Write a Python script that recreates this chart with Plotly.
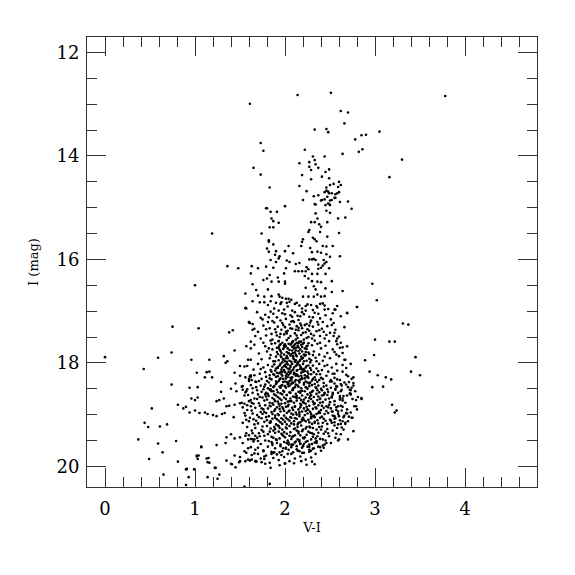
import plotly.graph_objects as go

# ---- data: (V-I, I) pairs, grouped by region ----
bright_sparse = [
    (2.14,12.82),(2.51,12.78),(1.61,12.99),(3.78,12.84),(2.62,13.13),(2.70,13.16),(2.66,13.37),
    (2.33,13.49),(2.46,13.48),(2.48,13.54),(3.05,13.53),(2.85,13.60),(2.90,13.59),(2.78,13.68),
    (1.73,13.75),(1.76,13.90),(2.22,13.88),(2.86,13.87),(2.82,13.92),(2.64,13.96),(3.30,14.07),
    (1.65,14.23),(1.73,14.36),(3.16,14.41),(1.83,14.61),(1.79,15.01),(2.00,14.97),
]
upper_rgb = [
    (2.31,14.01),(2.44,14.01),(2.16,14.14),(2.27,14.12),(2.33,14.08),(2.34,14.16),(2.27,14.21),
    (2.37,14.23),(2.29,14.27),(2.49,14.26),(2.45,14.31),(2.19,14.37),(2.41,14.40),(2.49,14.43),
    (2.29,14.45),(2.60,14.50),(2.54,14.54),(2.50,14.56),(2.62,14.56),(2.16,14.58),(2.46,14.61),
    (2.59,14.60),(2.24,14.68),(2.44,14.70),(2.48,14.69),(2.52,14.72),(2.56,14.74),(2.58,14.72),
    (2.60,14.70),(2.32,14.78),(2.37,14.76),(2.47,14.79),(2.55,14.81),(2.41,14.85),(2.44,14.84),
    (2.52,14.85),(2.61,14.89),(2.70,14.88),(2.20,14.85),(2.34,14.94),(2.45,14.95),(2.48,14.92),
    (2.50,14.95),(2.74,15.02),(2.46,14.67),(2.49,14.72),(2.40,14.86),(2.49,14.93),(2.33,14.93),
    (2.50,14.86),(2.56,14.81),
]
mid_branches = [
    (1.80,15.01),(1.84,15.08),(1.91,15.08),(2.46,15.06),(2.50,15.10),(2.34,15.11),(1.85,15.21),
    (1.87,15.26),(1.93,15.29),(2.67,15.19),(2.59,15.21),(2.36,15.21),(2.29,15.28),(2.33,15.28),
    (2.38,15.32),(2.47,15.28),(2.40,15.37),(1.83,15.38),(1.87,15.38),(2.27,15.43),(2.26,15.47),
    (2.39,15.47),(2.60,15.49),(1.19,15.50),(1.74,15.50),(2.47,15.56),(2.31,15.58),(2.33,15.61),
    (2.35,15.65),(2.20,15.61),(2.19,15.66),(1.82,15.63),(1.82,15.66),(1.87,15.71),(2.42,15.74),
    (2.46,15.75),(2.53,15.74),(2.04,15.74),(2.18,15.74),(2.28,15.78),(1.80,15.79),(1.90,15.84),
    (1.82,15.85),(2.36,15.85),(2.00,15.84),(2.09,15.88),(2.30,15.86),(2.40,15.87),(2.46,15.90),
    (1.89,15.91),(1.94,15.94),(1.93,15.98),(2.50,15.95),(2.61,15.94),(1.84,16.01),(2.02,16.02),
    (2.27,16.00),(2.30,16.00),(2.32,15.99),(2.34,16.01),(2.43,16.01),(2.46,16.05),(1.90,16.05),
    (2.05,16.05),(2.12,16.09),(2.16,16.07),(2.37,16.10),(2.42,16.12),(2.44,16.08),(1.36,16.13),
    (1.48,16.17),(1.63,16.13),(1.70,16.17),(1.79,16.14),(1.87,16.16),(2.01,16.17),(2.24,16.15),
    (2.37,16.18),(2.40,16.16),(2.11,16.23),(2.15,16.23),(2.19,16.23),(2.23,16.23),(2.26,16.19),
    (2.49,16.17),(1.62,16.27),(1.83,16.30),(1.80,16.37),(1.99,16.27),(2.22,16.32),(2.30,16.28),
    (2.36,16.28),(2.45,16.28),(1.76,16.40),(1.85,16.43),(1.92,16.35),(1.93,16.43),(2.00,16.43),
    (2.00,16.47),(2.26,16.37),(2.30,16.42),(2.36,16.43),(2.40,16.44),(2.52,16.42),(1.64,16.48),
    (2.97,16.47),(2.23,16.55),(2.32,16.52),(2.34,16.58),(2.45,16.56),(1.68,16.59),(1.81,16.58),
    (2.64,16.61),(1.56,16.66),(1.70,16.70),(1.77,16.72),(1.85,16.71),(1.93,16.68),(1.94,16.72),
    (1.97,16.74),(2.01,16.76),(2.04,16.76),(2.07,16.78),(2.20,16.72),(2.26,16.72),(2.32,16.72),
    (2.36,16.68),(2.40,16.72),(2.44,16.71),(2.52,16.63),(1.64,16.81),(3.02,16.79),(1.77,16.83),
    (1.84,16.81),(1.90,16.84),(1.96,16.83),(2.02,16.84),(2.11,16.86),(2.16,16.89),(2.23,16.90),
    (2.29,16.88),(2.35,16.90),(2.39,16.86),(2.44,16.89),(2.56,16.97),(2.80,16.92),(2.69,17.04),
    (1.56,16.94),(1.73,17.13),(1.00,16.50),(1.57,16.95),(1.60,17.21),
]
blue_sparse = [
    (1.56,16.94),(1.60,17.22),(1.66,17.34),(0.75,17.30),(1.04,17.33),(1.38,17.41),(1.42,17.37),
    (1.62,17.59),(1.44,17.76),(1.62,17.72),(0.00,17.89),(0.59,17.90),(0.74,17.80),(0.96,17.94),
    (1.16,17.94),(1.32,17.87),(1.34,18.00),(1.36,17.97),(1.50,18.06),(1.62,17.94),(0.43,18.12),
    (1.02,18.19),(1.13,18.18),(1.16,18.17),(1.11,18.28),(1.19,18.28),(1.29,18.37),(1.44,18.19),
    (1.50,18.25),(1.56,18.28),(1.62,18.24),(1.60,18.35),(1.63,18.33),(1.67,18.36),(0.74,18.42),
    (0.94,18.48),(1.03,18.47),(1.45,18.40),(1.40,18.50),(1.29,18.56),(1.46,18.55),(1.53,18.52),
    (1.56,18.57),(0.96,18.69),(1.00,18.72),(1.03,18.67),(0.81,18.81),(0.52,18.88),(1.24,18.74),
    (1.27,18.72),(1.32,18.69),(1.35,18.84),(1.38,18.83),(1.44,18.81),(1.50,18.78),(1.55,18.79),
    (1.58,18.82),(1.62,18.72),(1.65,18.79),(0.87,18.88),(0.90,18.85),(0.94,18.96),(1.00,18.92),
    (1.05,18.97),(1.11,18.96),(1.14,18.99),(1.20,19.01),(1.24,19.03),(1.30,18.99),(1.33,18.97),
    (1.43,19.05),(0.44,19.16),(0.48,19.24),(0.61,19.23),(0.69,19.19),(0.37,19.48),(0.79,19.51),
    (0.59,19.56),(1.07,19.62),(1.24,19.59),(1.35,19.44),(1.40,19.38),(1.44,19.46),(1.50,19.44),
    (1.56,19.41),(1.59,19.48),(1.64,19.48),(1.67,19.41),(0.64,19.73),(0.49,19.86),(0.81,19.91),
    (1.02,19.81),(1.04,19.79),(1.13,19.85),(1.16,19.93),(1.35,19.89),(1.41,19.96),(1.45,20.02),
    (1.50,19.90),(1.56,19.90),(1.22,20.03),(1.23,20.03),(0.65,20.16),(0.90,20.06),(0.91,20.05),
    (0.93,20.21),(1.27,20.16),(1.25,20.24),(1.14,20.21),(0.90,20.36),(1.55,20.39),(0.99,20.06),
    (1.83,20.34),(1.84,20.03),(2.00,19.94),(2.33,19.96),(1.40,19.95),(1.49,19.92),(1.61,19.89),
    (1.67,19.90),(1.74,19.92),(1.44,19.79),(1.50,19.82),(1.57,19.74),(1.63,19.78),(1.70,19.76),
    (1.77,19.81),(1.85,19.76),(1.94,19.73),(1.96,19.78),(2.07,19.76),(2.14,19.70),(2.19,19.74),
    (2.29,19.70),(2.31,19.66),(1.34,19.55),(1.07,19.63),(1.02,19.79),(1.03,19.86),(1.15,19.84),
    (1.14,19.92),(1.52,18.77),(1.55,18.97),(1.53,19.16),(1.57,19.36),(1.53,19.55),(1.55,19.71),
    (1.59,19.87),(1.66,19.48),(1.72,19.42),(1.76,19.71),(1.63,19.87),(1.68,19.90),(1.77,19.86),
    (1.67,19.68),(1.59,19.65),(1.61,17.23),(1.64,17.36),(1.57,17.68),(1.59,17.94),(1.55,18.07),
    (1.61,18.26),(1.57,18.55),(1.53,18.45),
]
red_sparse = [
    (2.70,19.48),(2.60,19.48),(2.46,19.55),(2.42,19.60),(2.39,19.63),(2.02,19.55),(2.07,19.58),
    (2.11,19.54),(2.16,19.52),(2.20,19.61),(2.27,19.58),(2.35,19.52),(3.19,18.81),(3.24,18.92),
    (3.22,18.96),(2.85,18.70),(2.73,18.61),(2.77,18.84),(2.74,19.06),(2.68,18.97),(2.67,19.16),
    (2.59,19.50),(2.76,19.32),(2.00,19.95),(1.87,19.74),(1.98,19.65),(2.09,19.58),(2.16,19.71),
    (2.27,19.68),(2.35,19.55),(2.42,19.48),(2.48,19.36),(2.52,19.16),(2.55,19.03),(2.59,18.84),
    (2.61,18.64),(2.53,18.58),(3.00,17.55),(3.16,17.59),(3.22,17.59),(2.99,17.85),(2.89,17.95),
    (2.94,18.17),(3.03,18.24),(3.12,18.28),(3.18,18.32),(3.09,18.46),(2.97,18.47),(2.85,18.68),
    (2.76,18.39),(2.72,18.52),(2.70,18.26),(2.68,18.10),(2.66,17.94),(2.64,17.81),(2.61,17.71),
    (2.57,17.58),(2.69,17.03),(2.55,16.97),(2.80,16.92),(3.31,17.24),(3.37,17.26),(2.52,17.27),
    (3.45,17.89),(3.40,18.17),(3.50,18.24),(2.55,17.42),(2.54,17.48),(2.58,17.53),(2.62,17.61),
    (2.64,17.70),(2.69,17.68),(2.55,17.79),(2.57,17.84),(2.67,17.94),(2.73,18.02),(2.57,18.02),
    (2.64,18.17),(2.55,18.21),(2.58,18.32),(2.76,18.28),(2.74,18.31),(2.52,18.36),(2.55,18.40),
    (2.63,18.44),(2.68,18.42),(2.76,18.44),(2.74,18.48),(2.56,18.50),(2.62,18.55),(2.52,18.65),
    (2.61,18.67),(2.64,18.69),(2.73,18.60),(2.55,18.81),(2.64,18.85),(2.79,18.84),(2.80,18.90),
    (2.53,18.94),(2.59,18.94),(2.66,19.02),(2.75,19.06),(2.68,18.97),(2.55,19.08),(2.64,19.13),
    (2.59,19.19),(2.63,19.25),
]
band_168_172 = [
    (1.72,16.83),(1.81,16.88),(1.88,16.95),(1.95,16.86),(2.03,16.91),(2.08,16.99),(2.13,16.84),
    (2.19,16.95),(2.25,16.87),(2.31,16.98),(2.36,16.93),(2.42,16.85),(2.48,16.96),(2.58,16.90),
    (1.69,17.02),(1.78,17.07),(1.84,17.01),(1.91,17.12),(1.97,17.04),(2.01,17.15),(2.06,17.08),
    (2.11,17.02),(2.15,17.17),(2.21,17.06),(2.27,17.11),(2.33,17.03),(2.39,17.14),(2.45,17.08),
    (2.51,17.16),(2.62,17.10),(1.75,17.16),(1.86,17.19),(1.93,16.99),(2.00,17.06),(2.09,17.19),
    (2.17,17.10),(2.23,16.99),(2.29,17.18),(2.37,17.05),(2.44,16.97),(1.99,16.97),(2.05,16.82),
    (2.14,17.09),(1.82,17.12),(2.53,17.04),
    (1.87,17.05),(2.19,17.02),(2.31,17.12),(1.95,17.18),(2.08,17.11),
]
band_172_176 = [
    (1.64,17.25),(1.70,17.40),(1.76,17.28),(1.79,17.47),(1.83,17.33),(1.86,17.55),(1.88,17.22),
    (1.90,17.41),(1.92,17.30),(1.94,17.50),(1.96,17.36),(1.97,17.23),(1.99,17.45),(2.00,17.31),
    (2.02,17.56),(2.03,17.38),(2.05,17.26),(2.06,17.48),(2.08,17.34),(2.09,17.58),(2.10,17.21),
    (2.11,17.43),(2.13,17.29),(2.14,17.52),(2.15,17.37),(2.17,17.24),(2.18,17.46),(2.19,17.33),
    (2.21,17.55),(2.22,17.27),(2.23,17.41),(2.25,17.35),(2.26,17.50),(2.28,17.22),(2.29,17.44),
    (2.31,17.30),(2.33,17.57),(2.35,17.39),(2.37,17.26),(2.39,17.48),(2.41,17.34),(2.44,17.53),
    (2.47,17.29),(2.50,17.42),(2.56,17.36),(2.60,17.49),(2.66,17.31),(1.73,17.53),(1.81,17.21),
    (1.85,17.44),(1.93,17.58),(1.98,17.27),(2.01,17.40),(2.04,17.52),(2.07,17.20),(2.12,17.36),
    (2.16,17.59),(2.20,17.42),(2.24,17.25),(2.27,17.38),(2.32,17.47),(2.36,17.21),(2.43,17.40),
    (2.49,17.58),(1.95,17.44),(2.06,17.33),(2.13,17.47),(1.89,17.35),(2.18,17.28),(2.30,17.53),
    (1.67,17.48),(2.54,17.23),
    (2.42,17.21),(1.79,17.35),(2.15,17.32),(2.27,17.28),(1.91,17.47),(2.02,17.43),(2.38,17.37),
    (2.12,17.55),(2.24,17.52),(1.84,17.57),(2.46,17.46),
]
band_176_180 = [
    (1.89,17.62),(1.91,17.71),(1.92,17.83),(1.93,17.95),(1.94,17.66),(1.95,17.77),(1.96,17.89),
    (1.97,17.61),(1.98,17.73),(1.99,17.84),(2.00,17.97),(2.01,17.68),(2.02,17.79),(2.03,17.91),
    (2.04,17.63),(2.05,17.75),(2.06,17.86),(2.07,17.98),(2.08,17.69),(2.09,17.81),(2.10,17.93),
    (2.11,17.64),(2.12,17.76),(2.13,17.87),(2.14,17.99),(2.15,17.70),(2.16,17.82),(2.17,17.94),
    (2.18,17.65),(2.19,17.78),(2.20,17.90),(2.21,17.61),(2.22,17.72),(2.23,17.85),(2.24,17.96),
    (2.25,17.67),(2.26,17.80),(2.27,17.92),(1.90,17.88),(1.94,17.74),(1.97,17.99),(2.00,17.64),
    (2.02,17.87),(2.05,17.96),(2.08,17.60),(2.10,17.72),(2.12,17.95),(2.15,17.62),(2.18,17.88),
    (2.21,17.97),(2.24,17.73),(1.93,17.70),(1.98,17.93),(2.03,17.72),(2.07,17.83),(2.11,17.80),
    (2.14,17.67),(2.17,17.74),(2.20,17.63),(2.23,17.79),(1.96,17.81),(2.01,17.91),(2.06,17.65),
    (2.09,17.90),(2.13,17.61),(2.16,17.97),(2.19,17.69),(2.22,17.86),(1.99,17.70),(2.04,17.82),
    (2.08,17.76),(2.12,17.84),(1.95,17.64),(2.26,17.62),(2.02,17.98),(2.10,17.67),
    (1.66,17.65),(1.71,17.82),(1.74,17.93),(1.78,17.68),(1.80,17.78),(1.83,17.91),(1.85,17.63),
    (1.86,17.74),(1.87,17.97),(1.84,17.85),(2.30,17.66),(2.32,17.78),(2.34,17.90),(2.36,17.63),
    (2.38,17.84),(2.40,17.72),(2.42,17.96),(2.45,17.67),(2.47,17.81),(2.50,17.91),(2.53,17.74),
    (2.58,17.64),(2.60,17.87),(2.28,17.99),(2.31,17.85),(2.35,17.97),(1.76,17.61),(1.82,17.72),
    (2.39,17.61),(2.44,17.88),
    (2.07,17.63),(1.93,17.58),(2.18,17.59),(1.99,17.66),(2.24,17.68),(2.12,17.71),(1.91,17.79),
    (2.15,17.77),(2.04,17.81),(2.27,17.83),(2.09,17.87),(1.95,17.86),(2.21,17.84),(2.11,17.98),
    (1.98,17.94),(2.29,17.95),(2.19,17.92),(1.89,17.97),
]
band_180_184 = [
    (1.88,18.03),(1.89,18.15),(1.90,18.27),(1.91,18.38),(1.92,18.08),(1.93,18.20),(1.94,18.32),
    (1.95,18.02),(1.96,18.13),(1.97,18.25),(1.98,18.37),(1.99,18.06),(2.00,18.18),(2.01,18.30),
    (2.02,18.01),(2.03,18.11),(2.04,18.23),(2.05,18.35),(2.06,18.05),(2.07,18.16),(2.08,18.28),
    (2.09,18.39),(2.10,18.09),(2.11,18.21),(2.12,18.33),(2.13,18.04),(2.14,18.14),(2.15,18.26),
    (2.16,18.38),(2.17,18.07),(2.18,18.19),(2.19,18.31),(2.20,18.02),(2.21,18.12),(2.22,18.24),
    (2.23,18.36),(2.24,18.06),(2.25,18.17),(2.26,18.29),(2.27,18.40),(2.28,18.10),(2.29,18.22),
    (2.30,18.34),(1.90,18.11),(1.93,18.35),(1.96,18.22),(1.99,18.14),(2.02,18.37),(2.05,18.12),
    (2.08,18.02),(2.11,18.36),(2.14,18.24),(2.17,18.32),(2.20,18.17),(2.23,18.09),(2.26,18.21),
    (1.92,18.26),(1.95,18.18),(1.98,18.31),(2.01,18.08),(2.04,18.17),(2.07,18.33),(2.10,18.22),
    (2.13,18.15),(2.16,18.04),(2.19,18.13),(2.22,18.30),(2.25,18.38),(1.94,18.05),(1.97,18.09),
    (2.00,18.36),(2.03,18.27),(2.06,18.20),(2.09,18.13),(2.12,18.06),(2.15,18.34),(2.18,18.25),
    (2.21,18.39),(2.24,18.27),(1.91,18.19),(2.00,18.04),(2.06,18.29),(2.12,18.25),(2.18,18.10),
    (2.02,18.21),(2.08,18.38),
    (1.58,18.06),(1.62,18.27),(1.65,18.13),(1.68,18.37),(1.70,18.02),(1.72,18.21),(1.74,18.31),
    (1.76,18.09),(1.78,18.18),(1.80,18.35),(1.81,18.04),(1.83,18.24),(1.84,18.14),(1.85,18.32),
    (1.86,18.07),(1.87,18.22),(2.31,18.05),(2.32,18.18),(2.33,18.28),(2.35,18.11),(2.36,18.37),
    (2.38,18.02),(2.39,18.22),(2.41,18.14),(2.42,18.31),(2.44,18.06),(2.46,18.25),(2.48,18.17),
    (2.50,18.36),(2.52,18.09),(2.55,18.29),(2.58,18.15),(2.61,18.33),(2.64,18.04),(2.68,18.23),
    (2.71,18.37),(1.79,18.27),(1.73,18.12),(2.34,18.33),(2.43,18.39),(2.47,18.04),(2.37,18.16),
    (1.66,18.24),(1.82,18.38),(2.40,18.29),(2.53,18.21),
    (2.14,18.01),(2.03,18.03),(2.26,18.05),(2.06,18.08),(1.92,18.10),(2.29,18.14),(2.17,18.12),
    (2.10,18.19),(1.97,18.17),(2.22,18.16),(2.01,18.25),(1.88,18.23),(2.25,18.26),(2.13,18.22),
    (2.07,18.32),(1.95,18.30),(2.31,18.31),(2.19,18.29),(2.04,18.39),(1.90,18.36),(2.28,18.38),
    (2.16,18.35),(1.85,18.17),(1.83,18.30),(2.35,18.22),(2.38,18.33),(2.51,18.33),(2.66,18.38),
    (1.60,18.31),(1.71,18.35),
]
band_184_188 = [
    (1.78,18.42),(1.79,18.58),(1.80,18.71),(1.81,18.49),(1.82,18.64),(1.83,18.77),(1.84,18.44),
    (1.85,18.55),(1.86,18.68),(1.87,18.47),(1.88,18.61),(1.89,18.74),(1.90,18.41),(1.91,18.52),
    (1.92,18.66),(1.93,18.79),(1.94,18.46),(1.95,18.59),(1.96,18.72),(1.97,18.43),(1.98,18.54),
    (1.99,18.67),(2.00,18.78),(2.01,18.48),(2.02,18.62),(2.03,18.75),(2.04,18.45),(2.05,18.57),
    (2.06,18.69),(2.07,18.41),(2.08,18.53),(2.09,18.65),(2.10,18.77),(2.11,18.47),(2.12,18.60),
    (2.13,18.73),(2.14,18.44),(2.15,18.56),(2.16,18.68),(2.17,18.79),(2.18,18.49),(2.19,18.63),
    (2.20,18.76),(2.21,18.42),(2.22,18.55),(2.23,18.67),(2.24,18.48),(2.25,18.61),(2.26,18.74),
    (2.27,18.45),(2.28,18.58),(2.29,18.70),(2.30,18.43),(2.31,18.54),(2.32,18.66),(2.33,18.78),
    (2.34,18.47),(2.35,18.60),(2.36,18.72),(2.37,18.44),(2.38,18.57),(2.39,18.69),(2.40,18.50),
    (2.41,18.63),(2.42,18.76),(2.43,18.46),(2.44,18.59),(2.45,18.71),(1.83,18.52),(1.88,18.45),
    (1.92,18.75),(1.97,18.61),(2.01,18.70),(2.05,18.44),(2.09,18.52),(2.13,18.64),(2.17,18.58),
    (2.21,18.71),(2.25,18.50),(2.29,18.62),(2.33,18.41),(2.37,18.65),(2.41,18.53),(1.86,18.78),
    (1.90,18.63),(1.95,18.48),(1.99,18.56),(2.03,18.41),(2.07,18.74),(2.11,18.66),(2.15,18.46),
    (2.19,18.54),(2.23,18.79),(2.27,18.68),(2.31,18.75),(2.35,18.49),(2.39,18.77),(2.43,18.62),
    (1.81,18.60),(1.94,18.69),(2.06,18.58),(2.18,18.72),(2.30,18.56),(2.12,18.42),(2.00,18.45),
    (1.87,18.55),
    (1.52,18.46),(1.55,18.63),(1.58,18.51),(1.60,18.74),(1.62,18.43),(1.64,18.58),(1.66,18.69),
    (1.68,18.47),(1.70,18.61),(1.71,18.78),(1.73,18.44),(1.74,18.56),(1.75,18.67),(1.76,18.51),
    (1.77,18.73),(2.46,18.44),(2.48,18.56),(2.49,18.69),(2.51,18.48),(2.53,18.61),(2.55,18.74),
    (2.57,18.45),(2.59,18.58),(2.61,18.71),(2.63,18.52),(2.65,18.64),(2.67,18.77),(2.70,18.47),
    (2.72,18.59),(2.75,18.70),(2.78,18.55),(2.81,18.66),(1.69,18.53),(1.63,18.77),(2.50,18.76),
    (2.56,18.52),(2.62,18.41),(1.72,18.66),(2.47,18.62),(2.69,18.63),
    (1.96,18.44),(2.23,18.47),(1.84,18.51),(2.09,18.49),(2.36,18.53),(1.92,18.57),(2.17,18.55),
    (2.44,18.58),(2.02,18.62),(1.79,18.65),(2.28,18.64),(2.13,18.68),(1.88,18.71),(2.39,18.70),
    (2.05,18.74),(2.21,18.77),(1.96,18.79),(2.32,18.80),(2.47,18.51),(2.58,18.46),(2.73,18.53),
    (2.52,18.67),(2.64,18.73),(2.79,18.72),(1.64,18.49),(1.77,18.46),(1.59,18.62),(1.69,18.70),
    (1.78,18.61),
]
band_188_192 = [
    (1.78,18.82),(1.79,18.97),(1.80,19.11),(1.81,18.88),(1.82,19.03),(1.83,19.16),(1.84,18.84),
    (1.85,18.95),(1.86,19.08),(1.87,18.81),(1.88,18.93),(1.89,19.06),(1.90,19.19),(1.91,18.86),
    (1.92,18.99),(1.93,19.12),(1.94,18.83),(1.95,18.94),(1.96,19.07),(1.97,19.18),(1.98,18.89),
    (1.99,19.02),(2.00,19.14),(2.01,18.85),(2.02,18.97),(2.03,19.09),(2.04,18.81),(2.05,18.92),
    (2.06,19.05),(2.07,19.17),(2.08,18.87),(2.09,19.00),(2.10,19.13),(2.11,18.84),(2.12,18.96),
    (2.13,19.08),(2.14,19.19),(2.15,18.90),(2.16,19.03),(2.17,19.15),(2.18,18.82),(2.19,18.94),
    (2.20,19.06),(2.21,18.88),(2.22,19.01),(2.23,19.13),(2.24,18.85),(2.25,18.98),(2.26,19.10),
    (2.27,18.83),(2.28,18.95),(2.29,19.07),(2.30,19.18),(2.31,18.89),(2.32,19.02),(2.33,19.14),
    (2.34,18.86),(2.35,18.99),(2.36,19.11),(2.37,18.82),(2.38,18.94),(2.39,19.06),(2.40,18.91),
    (2.41,19.04),(2.42,19.16),(2.43,18.87),(2.44,18.99),(2.45,19.12),(1.84,19.13),(1.89,18.90),
    (1.93,19.01),(1.97,18.86),(2.01,19.06),(2.05,19.12),(2.09,18.91),(2.13,19.00),(2.17,18.86),
    (2.21,19.10),(2.25,18.90),(2.29,18.99),(2.33,19.05),(2.37,19.17),(2.41,18.83),(1.86,18.99),
    (1.91,19.09),(1.95,19.15),(1.99,18.93),(2.03,18.84),(2.07,18.98),(2.11,19.07),(2.15,19.16),
    (2.19,19.09),(2.23,18.93),(2.27,19.15),(2.31,19.03),(2.35,18.88),(2.39,18.97),(2.02,19.19),
    (2.16,18.95),
    (1.53,18.86),(1.56,19.02),(1.58,18.91),(1.60,19.13),(1.62,18.84),(1.64,18.98),(1.65,19.09),
    (1.67,18.87),(1.69,19.01),(1.70,19.17),(1.72,18.83),(1.73,18.95),(1.74,19.07),(1.76,18.90),
    (1.77,19.14),(2.46,18.84),(2.48,18.97),(2.50,19.10),(2.51,18.88),(2.53,19.02),(2.55,19.15),
    (2.57,18.86),(2.59,18.99),(2.61,19.11),(2.63,18.92),(2.65,19.05),(2.67,19.18),(2.69,18.90),
    (2.71,19.04),(2.73,18.96),(1.66,19.19),(1.71,19.05),(2.49,18.81),(2.56,19.07),(2.62,18.83),
    (1.75,18.99),(2.47,19.18),(2.60,19.03),(1.61,19.06),(2.52,18.94),
    (1.83,18.83),(2.11,18.85),(2.48,18.86),(1.94,18.89),(2.26,18.91),(2.04,18.94),(1.77,18.95),
    (2.37,18.97),(2.16,18.99),(1.89,19.02),(2.29,19.04),(2.07,19.06),(2.43,19.08),(1.98,19.10),
    (2.19,19.12),(1.84,19.15),(2.33,19.16),(2.10,19.19),(2.46,18.93),(2.57,18.91),(2.69,18.98),
    (2.51,19.12),(2.62,19.18),(2.70,19.13),(1.63,18.92),(1.74,18.88),(1.57,19.10),(1.68,19.12),
    (1.79,19.05),
]
band_192_196 = [
    (1.80,19.22),(1.81,19.38),(1.82,19.51),(1.84,19.27),(1.85,19.43),(1.86,19.56),(1.88,19.24),
    (1.89,19.35),(1.90,19.48),(1.92,19.21),(1.93,19.33),(1.94,19.46),(1.95,19.58),(1.97,19.29),
    (1.98,19.41),(1.99,19.53),(2.01,19.25),(2.02,19.37),(2.03,19.50),(2.05,19.22),(2.06,19.34),
    (2.07,19.47),(2.08,19.59),(2.10,19.28),(2.11,19.40),(2.12,19.52),(2.14,19.24),(2.15,19.36),
    (2.16,19.49),(2.18,19.21),(2.19,19.32),(2.20,19.45),(2.21,19.57),(2.23,19.27),(2.24,19.39),
    (2.25,19.51),(2.27,19.23),(2.28,19.35),(2.29,19.48),(2.31,19.26),(2.32,19.38),(2.33,19.54),
    (2.35,19.29),(2.36,19.42),(2.38,19.24),(2.39,19.47),(1.83,19.33),(1.87,19.45),(1.91,19.55),
    (1.96,19.37),(2.00,19.44),(2.04,19.58),(2.09,19.42),(2.13,19.31),(2.17,19.56),(2.22,19.44),
    (2.26,19.33),(2.30,19.57),(2.34,19.46),(2.37,19.35),(1.94,19.26),(1.99,19.34),(2.05,19.41),
    (2.11,19.27),(2.17,19.40),(2.23,19.53),(2.28,19.25),(1.89,19.28),(2.02,19.55),(2.14,19.48),
    (2.20,19.29),(1.85,19.53),(2.31,19.43),
    (1.58,19.24),(1.60,19.40),(1.63,19.31),(1.65,19.52),(1.67,19.26),(1.69,19.45),(1.71,19.36),
    (1.73,19.57),(1.75,19.23),(1.77,19.41),(1.78,19.50),(2.41,19.23),(2.43,19.37),(2.45,19.50),
    (2.47,19.28),(2.49,19.42),(2.51,19.55),(2.53,19.31),(2.56,19.45),(2.58,19.26),(2.62,19.38),
    (2.65,19.29),(1.62,19.47),(1.74,19.30),(2.44,19.58),(2.55,19.21),
    (1.93,19.22),(2.24,19.24),(2.02,19.27),(2.40,19.29),(1.87,19.31),(2.15,19.33),(2.30,19.36),
    (1.97,19.39),(2.08,19.43),(2.21,19.46),(1.91,19.49),(2.35,19.51),(2.04,19.54),(2.17,19.57),
    (1.86,19.59),(2.45,19.33),(2.57,19.37),(1.64,19.36),(1.76,19.33),(1.70,19.51),
]
band_196_200 = [
    (1.62,19.63),(1.66,19.75),(1.70,19.64),(1.73,19.85),(1.76,19.69),(1.79,19.79),(1.81,19.62),
    (1.83,19.93),(1.85,19.72),(1.87,19.84),(1.89,19.65),(1.91,19.77),(1.93,19.88),(1.95,19.61),
    (1.97,19.71),(1.99,19.82),(2.01,19.66),(2.03,19.76),(2.05,19.90),(2.07,19.63),(2.09,19.73),
    (2.11,19.85),(2.13,19.61),(2.15,19.70),(2.17,19.81),(2.19,19.64),(2.21,19.74),(2.23,19.87),
    (2.25,19.62),(2.27,19.72),(2.29,19.83),(2.32,19.65),(2.34,19.76),(2.37,19.62),(2.40,19.70),
    (2.43,19.64),(1.78,19.95),(1.94,19.98),(2.10,19.94),(2.24,19.97),(1.88,19.73),(2.04,19.68),
    (2.18,19.90),(1.68,19.91),(2.30,19.91),
    (2.27,19.62),(2.01,19.64),(2.13,19.67),
]

groups = [bright_sparse, upper_rgb, mid_branches, blue_sparse, red_sparse,
          band_168_172, band_172_176, band_176_180, band_180_184,
          band_184_188, band_188_192, band_192_196, band_196_200]
v_minus_i = [p[0] for g in groups for p in g]
i_mag = [p[1] for g in groups for p in g]

x_tickvals = [0, 1, 2, 3, 4]
y_tickvals = [12, 14, 16, 18, 20]

fig = go.Figure(go.Scatter(
    x=v_minus_i, y=i_mag, mode="markers",
    marker=dict(color="black", size=2.6, symbol="circle", line=dict(width=0)),
    hoverinfo="skip",
))

axis_common = dict(
    showgrid=False, zeroline=False, showline=True, linecolor="#333", linewidth=1,
    mirror="allticks", ticks="inside", ticklen=19, tickwidth=1, tickcolor="#333",
    tickfont=dict(family="DejaVu Serif", size=18, color="black"),
)

fig.update_layout(
    width=575, height=575,
    margin=dict(l=79, r=46, t=29, b=96, autoexpand=False),
    paper_bgcolor="white", plot_bgcolor="white",
    showlegend=False,
    xaxis=dict(
        range=[-0.2, 4.8], tickvals=x_tickvals, ticklabelstandoff=5,
        minor=dict(dtick=0.2, tick0=0, ticks="inside", ticklen=10, tickcolor="#333", tickwidth=1),
        title=dict(text="V-I", font=dict(family="DejaVu Serif", size=13, color="black"), standoff=5),
        **axis_common,
    ),
    yaxis=dict(
        range=[20.4, 11.7], tickvals=y_tickvals, ticklabelstandoff=3,
        minor=dict(dtick=0.5, tick0=0, ticks="inside", ticklen=10, tickcolor="#333", tickwidth=1),
        title=dict(text="I (mag)", font=dict(family="DejaVu Serif", size=13, color="black"), standoff=14),
        **axis_common,
    ),
)

fig.write_html("out.html")
